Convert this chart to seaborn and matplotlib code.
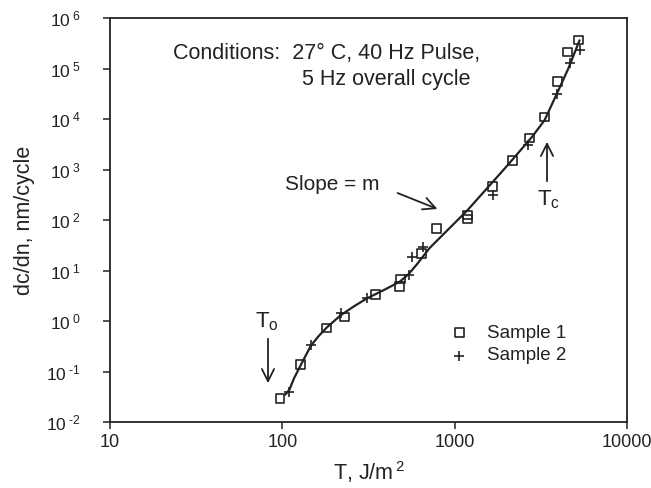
import numpy as np
import pandas as pd
import matplotlib
matplotlib.use('Agg')
import matplotlib.pyplot as plt
from matplotlib.ticker import NullLocator
import seaborn as sns

sns.set_theme(style='ticks')
plt.rcParams['font.family'] = ['Liberation Sans', 'DejaVu Sans']
plt.rcParams['mathtext.fontset'] = 'custom'
plt.rcParams['mathtext.rm'] = 'Liberation Sans'
plt.rcParams['mathtext.it'] = 'Liberation Sans:italic'

ink = '#222222'

# Sample 1 (open squares)
s1_T = [97, 128, 181, 230, 348, 480, 486, 640, 787, 1190, 1190, 1660, 2170, 2720, 3330, 3950, 4520, 5240]
s1_rate = [0.029, 0.14, 0.73, 1.2, 3.4, 4.9, 6.8, 22, 69, 126, 105, 470, 1540, 4200, 11000, 56000, 212000, 366000]

# Sample 2 (plus signs)
s2_T = [110, 146, 218, 309, 541, 563, 653, 1660, 2650, 3950, 4650, 5370]
s2_rate = [0.04, 0.33, 1.44, 2.85, 8.1, 19, 29, 313, 3050, 31000, 129000, 232000]

# hand drawn trend curve
curve_T = [104, 110, 117, 128, 146, 162, 182, 219, 263, 309, 398, 479, 537, 603, 716,
           1190, 2000, 2820, 3330, 3980, 4570, 5310]
curve_rate = [0.035, 0.044, 0.074, 0.135, 0.32, 0.5, 0.76, 1.32, 2.0, 2.8, 4.3, 6.0, 8.3, 13.2, 28,
              158, 1150, 4470, 9550, 35500, 100000, 363000]

x_ticks = [10, 100, 1000, 10000]
y_exps = [-2, -1, 0, 1, 2, 3, 4, 5, 6]
y_ticks = [10.0 ** e for e in y_exps]
y_tick_labels = [r'$\mathregular{10^{\ \text{%d}}}$' % e for e in y_exps]

fig, ax = plt.subplots(figsize=(6.51, 4.88), dpi=100)
fig.subplots_adjust(left=0.169, right=0.963, top=0.963, bottom=0.135)

sns.lineplot(x=curve_T, y=curve_rate, ax=ax, color=ink, lw=1.6, sort=False, estimator=None)
sns.scatterplot(x=s1_T, y=s1_rate, ax=ax, marker='s', s=40, facecolor='none',
                edgecolor=ink, linewidth=1.2, label='Sample 1', zorder=3)
sns.scatterplot(x=s2_T, y=s2_rate, ax=ax, marker='+', s=55, color=ink,
                linewidth=1.2, label='Sample 2', zorder=3)

ax.set_xscale('log')
ax.set_yscale('log')
ax.set_xlim(10, 10000)
ax.set_ylim(1e-2, 1e6)
ax.set_xticks(x_ticks)
ax.set_xticklabels([str(t) for t in x_ticks])
ax.set_yticks(y_ticks)
ax.set_yticklabels(y_tick_labels)
ax.xaxis.set_minor_locator(NullLocator())
ax.yaxis.set_minor_locator(NullLocator())
ax.tick_params(colors=ink, labelsize=13, length=5, width=1.1)
ax.tick_params(axis='y', labelsize=12.5, pad=16)
for sp in ax.spines.values():
    sp.set_color(ink)
    sp.set_linewidth(1.3)

ax.set_xlabel(r'T, J/m$\mathregular{^{\,2}}$', fontsize=15.5, color=ink, labelpad=6)
ax.set_ylabel('dc/dn, nm/cycle', fontsize=15.5, color=ink, labelpad=8)

H = 488
ax.text(173, H - 53, 'Conditions:  27\u00b0 C, 40 Hz Pulse,', transform=None, fontsize=15.5,
        color=ink, va='center')
ax.text(302, H - 79, '5 Hz overall cycle', transform=None, fontsize=15.5, color=ink, va='center')

# annotations (pixel positions from the top, converted)
ax.annotate('', xy=(440, H - 210), xytext=(395, H - 192), xycoords='figure pixels',
            arrowprops=dict(arrowstyle='->', color=ink, lw=1.3, mutation_scale=22))
ax.text(285, H - 185, 'Slope = m', transform=None, fontsize=15, color=ink, va='center')

ax.annotate('', xy=(268, H - 386), xytext=(268, H - 336), xycoords='figure pixels',
            arrowprops=dict(arrowstyle='->', color=ink, lw=1.3, mutation_scale=22))
ax.text(255, H - 322, r'T$\mathregular{_o}$', transform=None, fontsize=16, color=ink, va='center')

ax.annotate('', xy=(547, H - 139), xytext=(547, H - 184), xycoords='figure pixels',
            arrowprops=dict(arrowstyle='->', color=ink, lw=1.3, mutation_scale=22))
ax.text(537, H - 200, r'T$\mathregular{_c}$', transform=None, fontsize=16, color=ink, va='center')

ax.legend(loc='upper left', bbox_to_anchor=(0.625, 0.26), frameon=False, fontsize=13.5,
          handletextpad=0.5, labelcolor=ink, borderaxespad=0, labelspacing=0.3)

fig.savefig('out.png', dpi=100)
